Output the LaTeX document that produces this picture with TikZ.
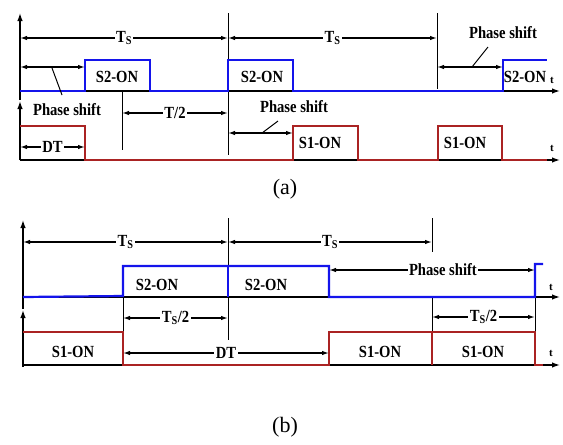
\documentclass[tikz,border=0pt]{standalone}
\usepackage{fontspec}
\setmainfont{Liberation Serif}
\usetikzlibrary{arrows.meta}
\definecolor{sigblue}{RGB}{20,20,235}
\definecolor{sigred}{RGB}{170,35,35}
\newcommand\cz[1]{\scalebox{0.86}[1]{#1}}
\begin{document}
\begin{tikzpicture}[x=1pt,y=-1pt,
  lbl/.style={font=\bfseries\fontsize{17}{19}\selectfont,inner sep=1pt},
  tlbl/.style={font=\bfseries\fontsize{11}{12}\selectfont,inner sep=0pt},
  figcap/.style={font=\fontsize{22}{26}\selectfont,inner sep=0pt},
  axis/.style={line width=1.3pt,-{Latex[length=8pt,width=5.5pt]}},
  dim/.style={line width=1.3pt,{Latex[length=7pt,width=4.5pt]}-{Latex[length=7pt,width=4.5pt]}},
  tick/.style={line width=1pt},
  sigA/.style={sigblue,line width=2.2pt},
  sigB/.style={sigred,line width=2.2pt},
  mid/.style={lbl,fill=white,inner sep=1.5pt}]
\useasboundingbox (0,0) rectangle (563,445);
% ===================== (a) =====================
\draw[axis] (20,160) -- (20,101);
\draw[axis] (20,100) -- (20,13);
\draw[axis] (20,91) -- (560,91);
\draw[axis] (20,160) -- (560,160);
\draw[tick] (228,13) -- (228,155);
\draw[tick] (437,13) -- (437,89);
\draw[tick] (122,91) -- (122,150);
\draw[sigA] (20,91) -- (85,91) -- (85,60) -- (150,60) -- (150,91) -- (228,91) -- (228,60) -- (293,60) -- (293,91) -- (503,91) -- (503,60) -- (547,60);
\draw[sigB] (20,126) -- (85,126) -- (85,160) -- (293,160) -- (293,126) -- (358,126) -- (358,160) -- (438,160) -- (438,126) -- (502,126) -- (502,160) -- (547,160);
\draw[dim] (20,38) -- node[mid] (tsa1) {\cz{T\textsubscript{S}}} (228,38);
\draw[dim] (228,38) -- node[mid] (tsa2) {\cz{T\textsubscript{S}}} (437,38);
\draw[dim] (20,67) -- (85,67);
\draw[tick] (52,68) -- (62,95);
\node[lbl] (psa1) at (67,110) {\cz{Phase shift}};
\draw[dim] (122,113) -- node[mid] (thalf) {\cz{T/2}} (228,113);
\draw[dim] (20,147) -- node[mid] (dta) {\cz{DT}} (85,147);
\draw[dim] (228,133) -- (293,133);
\draw[tick] (262,133) -- (278,121);
\node[lbl] (psa2) at (294,107) {\cz{Phase shift}};
\draw[dim] (437,67) -- (503,67);
\draw[tick] (472,67) -- (488,47);
\node[lbl] (psa3) at (503,33) {\cz{Phase shift}};
\node[lbl] (s2a1) at (117,77) {\cz{S2-ON}};
\node[lbl] (s2a2) at (262,77) {\cz{S2-ON}};
\node[lbl] (s2a3) at (525,77) {\cz{S2-ON}};
\node[lbl] (s1a1) at (320,143) {\cz{S1-ON}};
\node[lbl] (s1a2) at (465,143) {\cz{S1-ON}};
\node[tlbl] (ta1) at (552,80) {t};
\node[tlbl] (ta2) at (552,148) {t};
\node[figcap] (capa) at (285,189) {(a)};
% ===================== (b) =====================
\draw[axis] (23,367) -- (23,310);
\draw[axis] (23,309) -- (23,220);
\draw[axis] (23,297) -- (560,297);
\draw[axis] (23,365) -- (560,365);
\draw[tick] (228,218) -- (228,340);
\draw[tick] (432,218) -- (432,252);
\draw[tick] (432,297) -- (432,332);
\draw[tick] (123,297) -- (123,332);
\draw[tick] (535,297) -- (535,332);
\draw[sigA] (23,297) -- (123,296) -- (123,266) -- (329,266) -- (329,297) -- (535,297) -- (535,264) -- (543,264);
\draw[sigA] (228,266) -- (228,297);
\draw[sigB] (23,332) -- (123,332) -- (123,365) -- (329,365) -- (329,332) -- (535,332) -- (535,365) -- (543,365);
\draw[sigB] (432,332) -- (432,365);
\draw[dim] (23,242) -- node[mid] (tsb1) {\cz{T\textsubscript{S}}} (228,242);
\draw[dim] (228,242) -- node[mid] (tsb2) {\cz{T\textsubscript{S}}} (432,242);
\draw[dim] (329,270) -- node[mid,pos=0.553] (psb) {\cz{Phase shift}} (535,270);
\draw[dim] (123,318) -- node[mid] (thb1) {\cz{T\textsubscript{S}/2}} (228,318);
\draw[dim] (432,317) -- node[mid] (thb2) {\cz{T\textsubscript{S}/2}} (535,317);
\draw[dim] (123,353) -- node[mid] (dtb) {\cz{DT}} (329,353);
\node[lbl] (s2b1) at (157,285) {\cz{S2-ON}};
\node[lbl] (s2b2) at (266,285) {\cz{S2-ON}};
\node[lbl] (s1b1) at (73,352) {\cz{S1-ON}};
\node[lbl] (s1b2) at (380,352) {\cz{S1-ON}};
\node[lbl] (s1b3) at (483,352) {\cz{S1-ON}};
\node[tlbl] (tb1) at (551,287) {t};
\node[tlbl] (tb2) at (551,353) {t};
\node[figcap] (capb) at (285,427) {(b)};
\end{tikzpicture}
\end{document}
